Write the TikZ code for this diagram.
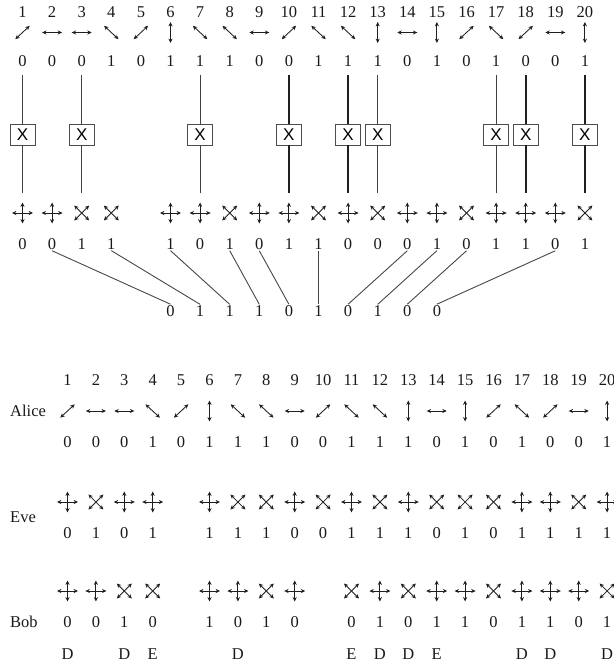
\documentclass[tikz,border=0pt]{standalone}
\usepackage{fontspec}
\setmainfont{Liberation Serif}
\newfontfamily\sansX{Liberation Sans}
\usetikzlibrary{arrows.meta}
\tikzset{
  txt/.style={inner sep=0pt, font=\fontsize{16.5}{18}\selectfont, text=black!90},
  bit/.style={inner sep=1pt, font=\fontsize{16.5}{18}\selectfont, text=black!90},
  lbl/.style={inner sep=0pt, anchor=west, font=\fontsize{16.5}{18}\selectfont, text=black!90},
  xbox/.style={draw=black!70, line width=0.9pt, minimum width=25pt, minimum height=21pt, inner sep=0pt, fill=white, font=\sansX\fontsize{17}{18}\selectfont},
  thinln/.style={draw=black!75, line width=1.1pt},
  thickln/.style={draw=black!88, line width=2.3pt},
  linkln/.style={draw=black!72, line width=0.9pt},
  pol/.style={draw=black!88, line width=0.85pt, {Stealth[length=4.4pt,width=4.1pt]}-{Stealth[length=4.4pt,width=4.1pt]}},
  ph/.pic={\draw[pol] (-10,0) -- (10,0);},
  pv/.pic={\draw[pol] (0,-10.5) -- (0,10.5);},
  pne/.pic={\draw[pol] (-7.2,6.7) -- (7.2,-6.7);},
  pnw/.pic={\draw[pol] (-7.2,-6.7) -- (7.2,6.7);},
  bp/.pic={\draw[pol] (-10.5,0) -- (10.5,0); \draw[pol] (0,-10.5) -- (0,10.5);},
  bx/.pic={\draw[pol] (-7.5,-7.5) -- (7.5,7.5); \draw[pol] (-7.5,7.5) -- (7.5,-7.5);}
}
\begin{document}
\begin{tikzpicture}[x=1pt,y=-1pt]
\useasboundingbox (0,0) rectangle (613,666);
% ---------- top section ----------
\foreach \i/\t/\b in {1/ne/0,2/h/0,3/h/0,4/nw/1,5/ne/0,6/v/1,7/nw/1,8/nw/1,9/h/0,10/ne/0,11/nw/1,12/nw/1,13/v/1,14/h/0,15/v/1,16/ne/0,17/nw/1,18/ne/0,19/h/0,20/v/1}{
  \pgfmathsetmacro\x{22.5+(\i-1)*29.6}
  \node[txt] (tn\i) at (\x,12.5) {\i};
  \pic at (\x,32.5) {p\t};
  \node[bit] (ta\i) at (\x,61) {\b};
}
\foreach \i/\w in {1/thinln,3/thinln,7/thinln,10/thickln,12/thickln,13/thinln,17/thinln,18/thickln,20/thickln}{
  \pgfmathsetmacro\x{22.5+(\i-1)*29.6}
  \node[xbox] (xb\i) at (\x,134.5) {X};
  \coordinate (ct\i) at (\x,75);
  \coordinate (cb\i) at (\x,193);
  \draw[\w] (ct\i) -- (xb\i);
  \draw[\w] (xb\i) -- (cb\i);
}
\foreach \i/\t/\b in {1/p/0,2/p/0,3/x/1,4/x/1,6/p/1,7/p/0,8/x/1,9/p/0,10/p/1,11/x/1,12/p/0,13/x/0,14/p/0,15/p/1,16/x/0,17/p/1,18/p/1,19/p/0,20/x/1}{
  \pgfmathsetmacro\x{22.5+(\i-1)*29.6}
  \pic at (\x,213) {b\t};
  \node[bit] (tb\i) at (\x,244) {\b};
}
\foreach \j/\b in {1/0,2/1,3/1,4/1,5/0,6/1,7/0,8/1,9/0,10/0}{
  \pgfmathsetmacro\x{22.5+(\j+4)*29.6}
  \node[bit] (k\j) at (\x,311) {\b};
}
\foreach \i/\j in {2/1,4/2,6/3,8/4,9/5,11/6,14/7,15/8,16/9,19/10}{
  \draw[linkln] (tb\i.south) -- (k\j.north);
}
% ---------- bottom section ----------
\node[lbl] (alice) at (10,411) {Alice};
\node[lbl] (eve) at (10,517) {Eve};
\node[lbl] (bob) at (10,622) {Bob};
\foreach \i/\t/\b in {1/ne/0,2/h/0,3/h/0,4/nw/1,5/ne/0,6/v/1,7/nw/1,8/nw/1,9/h/0,10/ne/0,11/nw/1,12/nw/1,13/v/1,14/h/0,15/v/1,16/ne/0,17/nw/1,18/ne/0,19/h/0,20/v/1}{
  \pgfmathsetmacro\x{67.5+(\i-1)*28.4}
  \node[txt] (bn\i) at (\x,380) {\i};
  \pic at (\x,411) {p\t};
  \node[bit] (aa\i) at (\x,442) {\b};
}
\foreach \i/\t/\b in {1/p/0,2/x/1,3/p/0,4/p/1,6/p/1,7/x/1,8/x/1,9/p/0,10/x/0,11/p/1,12/x/1,13/p/1,14/x/0,15/x/1,16/x/0,17/p/1,18/p/1,19/x/1,20/p/1}{
  \pgfmathsetmacro\x{67.5+(\i-1)*28.4}
  \pic at (\x,502) {b\t};
  \node[bit] (ea\i) at (\x,533) {\b};
}
\foreach \i/\t/\b in {1/p/0,2/p/0,3/x/1,4/x/0,6/p/1,7/p/0,8/x/1,9/p/0,11/x/0,12/p/1,13/x/0,14/p/1,15/p/1,16/x/0,17/p/1,18/p/1,19/p/0,20/x/1}{
  \pgfmathsetmacro\x{67.5+(\i-1)*28.4}
  \pic at (\x,591) {b\t};
  \node[bit] (ba\i) at (\x,622) {\b};
}
\foreach \i/\c in {1/D,3/D,4/E,7/D,11/E,12/D,13/D,14/E,17/D,18/D,20/D}{
  \pgfmathsetmacro\x{67.5+(\i-1)*28.4}
  \node[txt] (de\i) at (\x,654) {\c};
}
\end{tikzpicture}
\end{document}
